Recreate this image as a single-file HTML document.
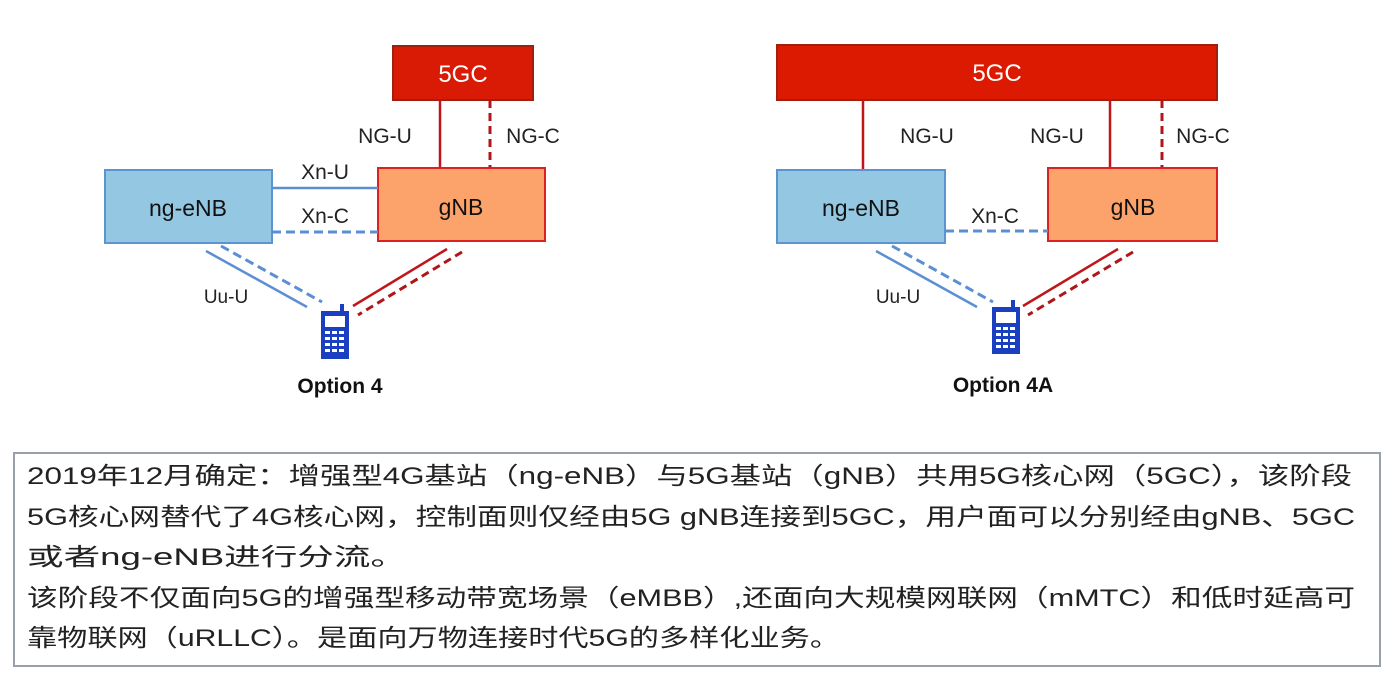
<!DOCTYPE html>
<html><head><meta charset="utf-8"><style>
html,body{margin:0;padding:0;background:#fff;}
svg{display:block;}
</style></head><body>
<svg width="1393" height="674" xmlns="http://www.w3.org/2000/svg" font-family="'Liberation Sans','Noto Sans CJK SC',sans-serif">
<rect width="1393" height="674" fill="#fff"/>
<!-- Option 4 -->
<rect x="393" y="46" width="140" height="54" fill="#d91a05" stroke="#a0200f" stroke-width="2"/>
<text x="463" y="82" font-size="24" fill="#fff" text-anchor="middle">5GC</text>
<line x1="440" y1="100" x2="440" y2="168" stroke="#c0161a" stroke-width="2.5"/>
<line x1="490" y1="100" x2="490" y2="168" stroke="#b01518" stroke-width="3" stroke-dasharray="8,5"/>
<text x="385" y="143" font-size="21" fill="#222" text-anchor="middle">NG-U</text>
<text x="533" y="143" font-size="21" fill="#222" text-anchor="middle">NG-C</text>
<rect x="105" y="170" width="167" height="73" fill="#94c8e2" stroke="#5b93d3" stroke-width="2"/>
<text x="188" y="216" font-size="23" fill="#111" text-anchor="middle">ng-eNB</text>
<rect x="378" y="168" width="167" height="73" fill="#fba36b" stroke="#dd2020" stroke-width="2"/>
<text x="461" y="215" font-size="23" fill="#111" text-anchor="middle">gNB</text>
<line x1="272" y1="188" x2="378" y2="188" stroke="#5b8fd3" stroke-width="2.5"/>
<line x1="272" y1="232" x2="378" y2="232" stroke="#5b8fd3" stroke-width="3" stroke-dasharray="9,5"/>
<text x="325" y="179" font-size="21" fill="#222" text-anchor="middle">Xn-U</text>
<text x="325" y="223" font-size="21" fill="#222" text-anchor="middle">Xn-C</text>
<line x1="206" y1="251" x2="307" y2="307" stroke="#5b8fd3" stroke-width="2.5"/>
<line x1="221" y1="246" x2="322" y2="302" stroke="#5b8fd3" stroke-width="3" stroke-dasharray="9,5"/>
<text x="226" y="303" font-size="19" fill="#222" text-anchor="middle">Uu-U</text>
<line x1="447" y1="249" x2="353" y2="306" stroke="#c0161a" stroke-width="2.5"/>
<line x1="462" y1="252" x2="358" y2="315" stroke="#b01518" stroke-width="3" stroke-dasharray="8,5"/>
<g transform="translate(320,304)">
<rect x="1" y="7" width="28" height="48" fill="#1a3fc0"/><rect x="20" y="0" width="4" height="8" fill="#1a3fc0"/>
<rect x="5" y="12" width="20" height="11" fill="#fff"/>
<g fill="#fff"><rect x="5" y="27" width="5" height="3"/><rect x="12" y="27" width="5" height="3"/><rect x="19" y="27" width="5" height="3"/><rect x="5" y="33" width="5" height="3"/><rect x="12" y="33" width="5" height="3"/><rect x="19" y="33" width="5" height="3"/><rect x="5" y="39" width="5" height="3"/><rect x="12" y="39" width="5" height="3"/><rect x="19" y="39" width="5" height="3"/><rect x="5" y="45" width="5" height="3"/><rect x="12" y="45" width="5" height="3"/><rect x="19" y="45" width="5" height="3"/></g>
</g>
<text x="340" y="393" font-size="21" font-weight="bold" fill="#111" text-anchor="middle">Option 4</text>
<!-- Option 4A -->
<rect x="777" y="45" width="440" height="55" fill="#dc1a02" stroke="#a0200f" stroke-width="2"/>
<text x="997" y="81" font-size="24" fill="#fff" text-anchor="middle">5GC</text>
<line x1="863" y1="100" x2="863" y2="170" stroke="#c0161a" stroke-width="2.5"/>
<line x1="1110" y1="100" x2="1110" y2="168" stroke="#c0161a" stroke-width="2.5"/>
<line x1="1162" y1="100" x2="1162" y2="168" stroke="#b01518" stroke-width="3" stroke-dasharray="8,5"/>
<text x="927" y="143" font-size="21" fill="#222" text-anchor="middle">NG-U</text>
<text x="1057" y="143" font-size="21" fill="#222" text-anchor="middle">NG-U</text>
<text x="1203" y="143" font-size="21" fill="#222" text-anchor="middle">NG-C</text>
<rect x="777" y="170" width="168" height="73" fill="#94c8e2" stroke="#5b93d3" stroke-width="2"/>
<text x="861" y="216" font-size="23" fill="#111" text-anchor="middle">ng-eNB</text>
<rect x="1048" y="168" width="169" height="73" fill="#fba36b" stroke="#dd2020" stroke-width="2"/>
<text x="1133" y="215" font-size="23" fill="#111" text-anchor="middle">gNB</text>
<line x1="945" y1="231" x2="1048" y2="231" stroke="#5b8fd3" stroke-width="3" stroke-dasharray="9,5"/>
<text x="995" y="223" font-size="21" fill="#222" text-anchor="middle">Xn-C</text>
<line x1="876" y1="251" x2="977" y2="307" stroke="#5b8fd3" stroke-width="2.5"/>
<line x1="892" y1="246" x2="993" y2="302" stroke="#5b8fd3" stroke-width="3" stroke-dasharray="9,5"/>
<text x="898" y="303" font-size="19" fill="#222" text-anchor="middle">Uu-U</text>
<line x1="1118" y1="249" x2="1023" y2="306" stroke="#c0161a" stroke-width="2.5"/>
<line x1="1133" y1="252" x2="1028" y2="315" stroke="#b01518" stroke-width="3" stroke-dasharray="8,5"/>
<g transform="translate(991,300)">
<rect x="1" y="7" width="28" height="47" fill="#1a3fc0"/><rect x="20" y="0" width="4" height="8" fill="#1a3fc0"/>
<rect x="5" y="12" width="20" height="11" fill="#fff"/>
<g fill="#fff"><rect x="5" y="27" width="5" height="3"/><rect x="12" y="27" width="5" height="3"/><rect x="19" y="27" width="5" height="3"/><rect x="5" y="33" width="5" height="3"/><rect x="12" y="33" width="5" height="3"/><rect x="19" y="33" width="5" height="3"/><rect x="5" y="39" width="5" height="3"/><rect x="12" y="39" width="5" height="3"/><rect x="19" y="39" width="5" height="3"/><rect x="5" y="45" width="5" height="3"/><rect x="12" y="45" width="5" height="3"/><rect x="19" y="45" width="5" height="3"/></g>
</g>
<text x="1003" y="392" font-size="21" font-weight="bold" fill="#111" text-anchor="middle">Option 4A</text>
<!-- text box -->
<rect x="14" y="453" width="1366" height="213" fill="#fff" stroke="#9aa0aa" stroke-width="2"/>
<g font-size="24" fill="#222">
<text x="27" y="484" textLength="1325" lengthAdjust="spacingAndGlyphs">2019年12月确定：增强型4G基站（ng-eNB）与5G基站（gNB）共用5G核心网（5GC），该阶段</text>
<text x="27" y="525" textLength="1328" lengthAdjust="spacingAndGlyphs">5G核心网替代了4G核心网，控制面则仅经由5G gNB连接到5GC，用户面可以分别经由gNB、5GC</text>
<text x="27" y="565" textLength="380" lengthAdjust="spacingAndGlyphs">或者ng-eNB进行分流。</text>
<text x="27" y="606" textLength="1328" lengthAdjust="spacingAndGlyphs">该阶段不仅面向5G的增强型移动带宽场景（eMBB）,还面向大规模网联网（mMTC）和低时延高可</text>
<text x="27" y="646" textLength="813" lengthAdjust="spacingAndGlyphs">靠物联网（uRLLC）。是面向万物连接时代5G的多样化业务。</text>
</g>
</svg>
</body></html>
